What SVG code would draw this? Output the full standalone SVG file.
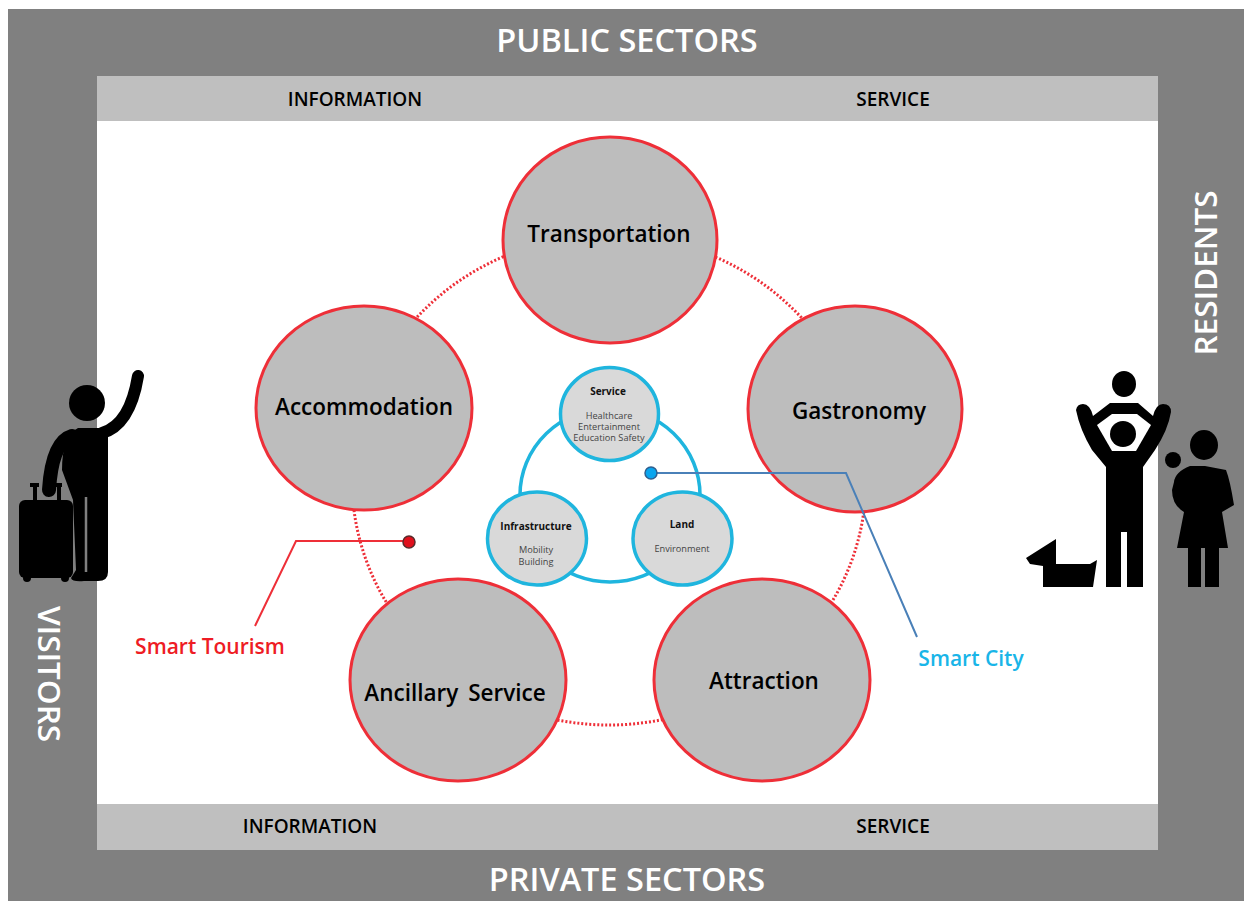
<svg xmlns="http://www.w3.org/2000/svg" width="1244" height="901" viewBox="0 0 1244 901">
<style>
text{font-family:"Open Sans","Noto Sans","Liberation Sans",sans-serif;text-anchor:middle}
.sec{fill:#fff;font-size:32.500px;font-weight:600}
.band{fill:#000;font-size:19px;font-weight:600}
.c{fill:#bdbdbd;stroke:#ee2f38;stroke-width:3}
.s{fill:#d9d9d9;stroke:#1fb5de;stroke-width:3.500}
.n{fill:#000;font-size:22.500px;font-weight:600}
.t{fill:#111;font-size:10px;font-weight:700}
.d{fill:#444;font-size:9.200px}
.k{fill:#000}
</style>
<rect x="8" y="9" width="1236" height="892" fill="#808080"/>
<rect x="97" y="121" width="1061" height="683" fill="#fff"/>
<g id="bands">
<rect x="97" y="76" width="1061" height="45" fill="#bfbfbf"/>
<rect x="97" y="804" width="1061" height="46" fill="#bfbfbf"/>
<text class="band" x="355" y="106">INFORMATION</text>
<text class="band" x="893" y="106">SERVICE</text>
<text class="band" x="310" y="833">INFORMATION</text>
<text class="band" x="893" y="833">SERVICE</text>
</g>
<g id="sector-labels">
<text class="sec" x="627" y="52">PUBLIC SECTORS</text>
<text class="sec" x="627" y="891">PRIVATE SECTORS</text>
<text class="sec" style="font-size:31.500px" transform="translate(1217 273) rotate(-90)">RESIDENTS</text>
<text class="sec" style="font-size:31.500px" transform="translate(38 674) rotate(90)">VISITORS</text>
</g>
<g id="rings" fill="none">
<ellipse cx="609" cy="480" rx="257" ry="245" stroke="#ee2f38" stroke-width="3" stroke-dasharray="2 2"/>
<ellipse cx="610" cy="495" rx="90" ry="87" stroke="#1fb5de" stroke-width="3.500"/>
</g>
<g id="transportation"><ellipse class="c" cx="610" cy="240" rx="107" ry="103"/><text class="n" x="609" y="242">Transportation</text></g>
<g id="accommodation"><ellipse class="c" cx="364" cy="408" rx="108" ry="102"/><text class="n" x="364" y="415">Accommodation</text></g>
<g id="gastronomy"><ellipse class="c" cx="855" cy="409" rx="107" ry="103"/><text class="n" x="859" y="419">Gastronomy</text></g>
<g id="ancillary-service"><ellipse class="c" cx="458" cy="680" rx="108" ry="101"/><text class="n" x="455" y="701" style="word-spacing:4px">Ancillary Service</text></g>
<g id="attraction"><ellipse class="c" cx="762" cy="680" rx="108" ry="101"/><text class="n" x="764" y="689">Attraction</text></g>
<g id="service"><ellipse class="s" cx="609.500" cy="414" rx="49" ry="46.500"/><text class="t" x="608" y="395">Service</text><text class="d" x="609" y="419">Healthcare</text><text class="d" x="609" y="430">Entertainment</text><text class="d" x="609" y="441">Education Safety</text></g>
<g id="infrastructure"><ellipse class="s" cx="537" cy="538.500" rx="49.500" ry="46.500"/><text class="t" x="536" y="530">Infrastructure</text><text class="d" x="536" y="553">Mobility</text><text class="d" x="536" y="565">Building</text></g>
<g id="land"><ellipse class="s" cx="682.500" cy="538.500" rx="49.500" ry="46.500"/><text class="t" x="682" y="528">Land</text><text class="d" x="682" y="552">Environment</text></g>
<g id="connectors" fill="none">
<path d="M255 626L296 541H408" stroke="#ee2f38" stroke-width="2"/>
<path d="M651 473H846L917 637" stroke="#4a80b8" stroke-width="2"/>
<circle cx="409" cy="542" r="6" fill="#e0101c" stroke="#5a2a2a" stroke-width="1.500"/>
<circle cx="651" cy="473" r="6" fill="#0aa5ee" stroke="#2f5f8f" stroke-width="1.500"/>
</g>
<g id="visitor">
<circle class="k" cx="87" cy="403" r="18"/>
<path class="k" d="M78 428H108V572Q108 581 98 581H84Q72 582 71 578L76 570L73 500L62 470Q62 436 78 428Z"/>
<path d="M102 433Q130 425 138 376" fill="none" stroke="#000" stroke-width="12" stroke-linecap="round"/>
<path d="M72 436Q52 442 49 490" fill="none" stroke="#000" stroke-width="14" stroke-linecap="round"/>
<path d="M86 497V572" stroke="#808080" stroke-width="2.500"/>
<rect class="k" x="19" y="500" width="54" height="78" rx="6"/>
<path d="M35 487V502M59 487V502M30 485H39M54 485H62" stroke="#000" stroke-width="4" fill="none"/>
<circle class="k" cx="27" cy="578" r="4"/><circle class="k" cx="65" cy="578" r="4"/>
</g>
<g id="residents">
<ellipse class="k" cx="1124" cy="384" rx="12" ry="13"/>
<path class="k" d="M1076 410Q1077 404 1083 404Q1090 404 1093 416L1110 403H1138L1153 416Q1156 404 1163 404Q1171 404 1171 412Q1168 430 1155 450L1143 467V587H1127V532H1121V587H1106V467L1092 450Q1080 430 1076 410Z"/>
<path d="M1097 425L1112 414H1137L1151 425L1136 451H1112Z" fill="#fff"/>
<circle class="k" cx="1123" cy="434" r="13"/>
<ellipse class="k" cx="1204" cy="445" rx="14" ry="15"/>
<circle class="k" cx="1173" cy="460" r="8"/>
<path class="k" d="M1174 482Q1175 472 1190 466H1205L1226 470Q1230 480 1234 505L1222 512L1228 548H1219V587H1205V548H1201V587H1188V548H1177L1184 512Q1172 505 1172 490Z"/>
<path class="k" d="M1026 558L1056 539V564H1090L1097 560L1093 587H1043V566L1030 564Z"/>
</g>
<g id="callouts">
<text x="210" y="654" style="fill:#ee1c25;font-size:21px;font-weight:600">Smart Tourism</text>
<text x="971" y="666" style="fill:#19b5e8;font-size:21px;font-weight:600">Smart City</text>
</g>
</svg>
